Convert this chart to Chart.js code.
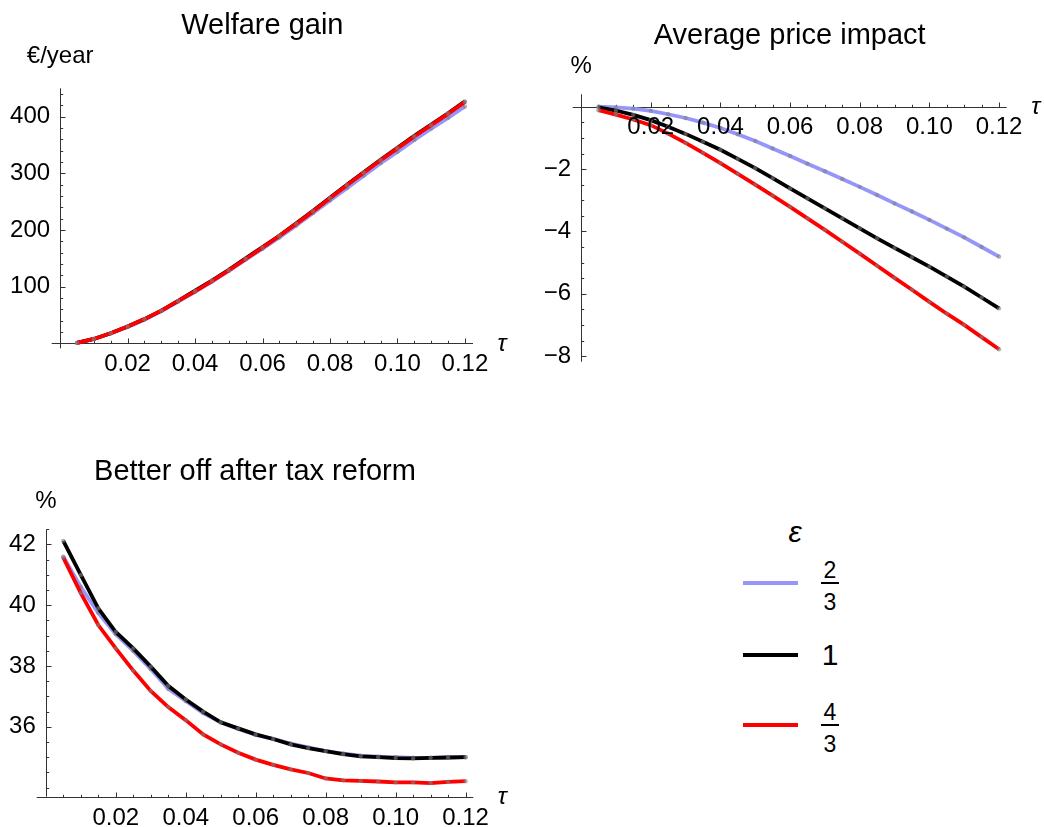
<!DOCTYPE html>
<html>
<head>
<meta charset="utf-8">
<script src="https://cdn.jsdelivr.net/npm/chart.js@4.4.1/dist/chart.umd.min.js"></script>
<style>
  html, body { margin: 0; padding: 0; background: #fff; }
  #page { position: relative; width: 1044px; height: 827px; overflow: hidden;
          font-family: "Liberation Sans", Arial, sans-serif; color: #000; }
  #page canvas { position: absolute; }
  .lg { position: absolute; transform: translate(-50%, -50%); line-height: 1; white-space: nowrap; }
  .swatch { position: absolute; height: 3.8px; width: 55px; }
  .bar { position: absolute; height: 2px; background: #000; }
</style>
</head>
<body>
<div id="page">
  <canvas id="welfare" width="520" height="400" style="left:0;top:0;width:520px;height:400px"></canvas>
  <canvas id="price" width="524" height="400" style="left:520px;top:0;width:524px;height:400px"></canvas>
  <canvas id="better" width="520" height="407" style="left:0;top:420px;width:520px;height:407px"></canvas>
  <div id="legend"></div>
</div>
<script>
// Tax rate grid (τ)
const tau = [0.005, 0.010, 0.015, 0.020, 0.025, 0.030, 0.035, 0.040, 0.045, 0.050, 0.055, 0.060,
             0.065, 0.070, 0.075, 0.080, 0.085, 0.090, 0.095, 0.100, 0.105, 0.110, 0.115, 0.120];

// Elasticity scenarios ε
const epsLabels = ['2/3', '1', '4/3'];
const epsColors = ['rgb(150,150,250)', '#000000', '#ff0000'];

// Welfare gain, €/year
const welfareEpsLow  = [1, 8, 18, 29, 42, 57, 74, 91, 109, 128, 148, 167, 187, 208, 230, 252, 274, 296, 318, 338, 359, 379, 398, 418];
const welfareEpsOne  = [1, 8, 18, 30, 43, 58, 75, 93, 111, 130, 150, 170, 190, 212, 234, 257, 280, 302, 324, 345, 366, 386, 406, 427];
const welfareEpsHigh = [1, 8, 18, 30, 43, 58, 75, 92, 110, 129, 149, 169, 190, 211, 233, 256, 279, 301, 323, 344, 365, 385, 405, 426];

// Average price impact, %
const priceEpsLow  = [0, -0.02, -0.06, -0.13, -0.24, -0.36, -0.51, -0.68, -0.88, -1.10, -1.34, -1.58,
                      -1.83, -2.07, -2.32, -2.57, -2.83, -3.10, -3.36, -3.63, -3.91, -4.19, -4.50, -4.81];
const priceEpsOne  = [-0.02, -0.12, -0.26, -0.43, -0.64, -0.87, -1.12, -1.38, -1.67, -1.97, -2.29, -2.62,
                      -2.94, -3.26, -3.58, -3.90, -4.22, -4.53, -4.83, -5.13, -5.45, -5.77, -6.12, -6.47];
const priceEpsHigh = [-0.11, -0.25, -0.41, -0.59, -0.86, -1.16, -1.48, -1.81, -2.15, -2.50, -2.85, -3.21,
                      -3.58, -3.95, -4.33, -4.71, -5.10, -5.49, -5.87, -6.26, -6.64, -7.00, -7.39, -7.78];

// Share better off after the tax reform, %
const betterEpsLow  = [41.60, 40.60, 39.75, 39.05, 38.50, 37.90, 37.25, 36.85, 36.45, 36.15, 35.93, 35.73,
                       35.60, 35.45, 35.32, 35.20, 35.12, 35.05, 35.02, 35.00, 34.98, 34.98, 34.99, 35.00];
const betterEpsOne  = [42.12, 41.00, 39.90, 39.12, 38.58, 37.98, 37.35, 36.90, 36.50, 36.15, 35.95, 35.75,
                       35.60, 35.42, 35.30, 35.20, 35.10, 35.03, 35.00, 34.97, 34.96, 34.98, 34.99, 35.00];
const betterEpsHigh = [41.57, 40.40, 39.35, 38.58, 37.85, 37.18, 36.65, 36.22, 35.75, 35.42, 35.15, 34.92,
                       34.75, 34.60, 34.48, 34.30, 34.24, 34.22, 34.20, 34.17, 34.17, 34.15, 34.19, 34.21];

// Tick labels
const tauTicks     = ['0.02', '0.04', '0.06', '0.08', '0.10', '0.12'];
const welfareTicks = ['100', '200', '300', '400'];
const priceTicks   = ['\u22128', '\u22126', '\u22124', '\u22122'];
const betterTicks  = ['36', '38', '40', '42'];

const FONT = '"Liberation Sans", Arial, sans-serif';
const AXIS_COLOR = '#333';
const tickValue = s => parseFloat(s.replace('\u2212', '-'));

// Mathematica-style axes crossing inside the frame, with inward ticks
const crossAxes = {
  id: 'crossAxes',
  beforeDatasetsDraw(chart, args, o) {
    const { ctx, chartArea: ca } = chart;
    const xs = chart.scales.x, ys = chart.scales.y;
    const hy = Math.round(ys.getPixelForValue(o.xAxisAt)) + 0.5;
    const vx = Math.round(xs.getPixelForValue(o.yAxisAt)) + 0.5;
    const xMajor = o.xLabels.map(tickValue), yMajor = o.yLabels.map(tickValue);
    const isMajor = (v, list, step) => list.some(m => Math.abs(m - v) < step * 0.01);
    ctx.save();
    ctx.strokeStyle = AXIS_COLOR;
    ctx.lineWidth = 1;
    ctx.beginPath();
    ctx.moveTo(ca.left, hy); ctx.lineTo(ca.right, hy);
    ctx.moveTo(vx, ca.top); ctx.lineTo(vx, ca.bottom);
    for (let k = Math.ceil(xs.min / o.xStep - 1e-6); k * o.xStep <= xs.max + 1e-9; k++) {
      const v = k * o.xStep;
      if (Math.abs(v - o.yAxisAt) < o.xStep * 0.01) continue;
      const len = isMajor(v, xMajor, o.xStep) ? 5 : 2.7;
      const px = Math.round(xs.getPixelForValue(v)) + 0.5;
      ctx.moveTo(px, hy); ctx.lineTo(px, hy - len);
    }
    for (let k = Math.ceil(ys.min / o.yStep - 1e-6); k * o.yStep <= ys.max + 1e-9; k++) {
      const v = k * o.yStep;
      if (Math.abs(v - o.xAxisAt) < o.yStep * 0.01) continue;
      const len = isMajor(v, yMajor, o.yStep) ? 5 : 2.7;
      const py = Math.round(ys.getPixelForValue(v)) + 0.5;
      ctx.moveTo(vx, py); ctx.lineTo(vx + len, py);
    }
    ctx.stroke();
    ctx.restore();
  },
  afterDatasetsDraw(chart, args, o) {
    const { ctx, chartArea: ca } = chart;
    const xs = chart.scales.x, ys = chart.scales.y;
    const hy = ys.getPixelForValue(o.xAxisAt);
    const vx = xs.getPixelForValue(o.yAxisAt);
    ctx.save();
    ctx.fillStyle = '#000';
    ctx.font = '24px ' + FONT;
    ctx.textAlign = 'center';
    ctx.textBaseline = 'alphabetic';
    o.xLabels.forEach(s => ctx.fillText(s, xs.getPixelForValue(tickValue(s)), hy + o.xLabelDy));
    ctx.textAlign = 'right';
    ctx.textBaseline = 'middle';
    o.yLabels.forEach(s => ctx.fillText(s, vx - 10, ys.getPixelForValue(tickValue(s))));
    ctx.textAlign = 'center';
    ctx.textBaseline = 'alphabetic';
    ctx.fillText(o.unit, vx, ca.top - o.unitDy);
    ctx.font = 'italic 24px ' + FONT;
    ctx.textBaseline = 'middle';
    ctx.fillText('\u03C4', ca.right + 29, hy + 1);
    ctx.restore();
  }
};

function series(values) {
  return values.map((v, i) => ({ x: tau[i], y: v }));
}

function makeChart(id, title, titlePad, pad, xr, yr, sets, axes) {
  return new Chart(document.getElementById(id), {
    type: 'line',
    data: {
      datasets: sets.map((vals, i) => ({
        label: '\u03B5 = ' + epsLabels[i],
        data: series(vals),
        order: sets.length - 1 - i,          // later scenarios are drawn on top
        borderColor: epsColors[i],
        borderWidth: 3.8,
        tension: 0,
        pointRadius: 2.2,
        pointBorderWidth: 0,
        pointBackgroundColor: 'rgba(128,128,128,0.6)',
        fill: false
      }))
    },
    options: {
      responsive: false,
      animation: false,
      devicePixelRatio: 1,
      layout: { padding: pad },
      scales: {
        x: { type: 'linear', min: xr[0], max: xr[1], display: false },
        y: { type: 'linear', min: yr[0], max: yr[1], display: false }
      },
      plugins: {
        legend: { display: false },
        tooltip: { enabled: false },
        title: {
          display: true, text: title, color: '#000',
          font: { family: FONT, size: 29, weight: 'normal', lineHeight: 1.2 },
          padding: titlePad
        },
        crossAxes: axes
      }
    },
    plugins: [crossAxes]
  });
}

makeChart('welfare', 'Welfare gain',
  { top: 8.6, bottom: 44.9 }, { left: 51.7, right: 47, top: 0, bottom: 51.7 },
  [-0.0025, 0.1224], [-8.5, 450],
  [welfareEpsLow, welfareEpsOne, welfareEpsHigh],
  { xAxisAt: 0, yAxisAt: 0, xStep: 0.005, yStep: 20, xLabels: tauTicks, yLabels: welfareTicks,
    unit: '\u20AC/year', unitDy: 25, xLabelDy: 28 });

makeChart('price', 'Average price impact',
  { top: 18.1, bottom: 41.4 }, { left: 52.7, right: 37.3, top: 0, bottom: 38.3 },
  [-0.0024, 0.1222], [-8.18, 0.4],
  [priceEpsLow, priceEpsOne, priceEpsHigh],
  { xAxisAt: 0, yAxisAt: 0, xStep: 0.005, yStep: 0.5, xLabels: tauTicks, yLabels: priceTicks,
    unit: '%', unitDy: 21.6, xLabelDy: 27 });

makeChart('better', 'Better off after tax reform',
  { top: 34.6, bottom: 39.9 }, { left: 36.7, right: 46.7, top: 0, bottom: 30.3 },
  [-0.0026, 0.1222], [33.7, 42.5],
  [betterEpsLow, betterEpsOne, betterEpsHigh],
  { xAxisAt: 33.7, yAxisAt: 0, xStep: 0.005, yStep: 0.5, xLabels: tauTicks, yLabels: betterTicks,
    unit: '%', unitDy: 21, xLabelDy: 28 });

// Legend: ε with one swatch per scenario, fractions stacked
(function buildLegend() {
  const box = document.getElementById('legend');
  const add = (cls, css, text) => {
    const el = document.createElement('div');
    el.className = cls;
    Object.assign(el.style, css);
    if (text !== undefined) el.textContent = text;
    box.appendChild(el);
    return el;
  };
  add('lg', { left: '795px', top: '532px', fontSize: '30px', fontStyle: 'italic' }, '\u03B5');
  const rowY = [582.7, 655, 724.7];
  epsLabels.forEach((lab, i) => {
    const y = rowY[i];
    add('swatch', { left: '743px', top: (y - 1.9) + 'px', background: epsColors[i] });
    const parts = lab.split('/');
    if (parts.length === 2) {
      add('lg', { left: '830px', top: (y - 13) + 'px', fontSize: '23px' }, parts[0]);
      add('bar', { left: '821px', width: '18px', top: (y - 1) + 'px' });
      add('lg', { left: '830px', top: (y + 19) + 'px', fontSize: '23px' }, parts[1]);
    } else {
      add('lg', { left: '830px', top: y + 'px', fontSize: '30px' }, lab);
    }
  });
})();
</script>
</body>
</html>
